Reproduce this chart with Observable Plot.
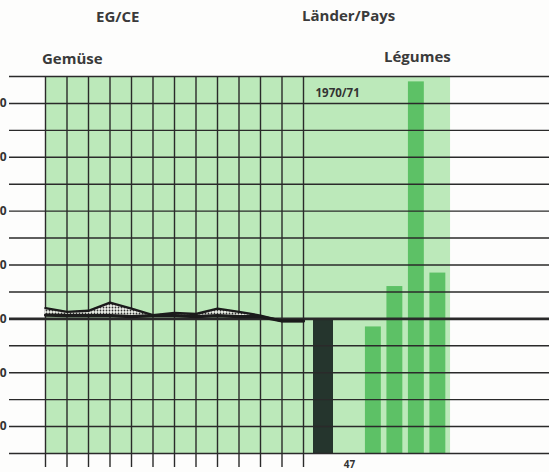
<!DOCTYPE html>
<html><head><meta charset="utf-8">
<script src="https://cdn.jsdelivr.net/npm/d3@7"></script>
<script src="https://cdn.jsdelivr.net/npm/@observablehq/plot@0.6"></script>
<style>
body{margin:0;background:#fdfdfc;font-family:"Open Sans",Lato,sans-serif;}
#wrap{position:relative;width:549px;height:472px;overflow:hidden}
.t{position:absolute;font-weight:700;color:#3a3a3a;font-size:15px;line-height:15px;white-space:nowrap}
#chart{position:absolute;left:0;top:0}
</style></head><body>
<div id="wrap">
<div id="chart"></div>
<div class="t" style="left:96px;top:9px">EG/CE</div>
<div class="t" style="left:302px;top:8px">Länder/Pays</div>
<div class="t" style="left:42px;top:51px">Gemüse</div>
<div class="t" style="left:384px;top:49px">Légumes</div>
</div>
<script>
// EG/CE series, one value per season (index 100 scale)
const seasons = ["1958/59","1959/60","1960/61","1961/62","1962/63","1963/64","1964/65","1965/66","1966/67","1967/68","1968/69","1969/70","1970/71"];
const egUpper = [102.0, 101.3, 101.5, 103.0, 101.9, 100.7, 101.1, 100.9, 101.9, 101.3, 100.6, 99.6, 99.6];
const egLower = [100.7, 100.6, 100.6, 100.6, 100.4, 100.6, 100.6, 100.4, 100.6, 100.4, 100.4, 99.6, 99.6];
// Countries 1970/71
const countries = ["D", "F", "I", "NL", "B/L"];
const countryValues = [47, 98.5, 106, 144, 108.5];
const barYear = "1970/71";
const yTickLabels = [80, 90, 100, 110, 120, 130, 140];
const gridLevels = [75, 80, 85, 90, 95, 100, 105, 110, 115, 120, 125, 130, 135, 140, 145];

const yMin = gridLevels[0], yMax = gridLevels[gridLevels.length - 1], base = 100;
const n = seasons.length;
// bar slots to the right of the season grid
const bars = countries.map((c, i) => {
  const center = i === 0 ? (n - 1) + 0.93 : (n - 1) + 2.25 + i;
  const half = i === 0 ? 0.465 : 0.37;
  return {country: c, value: countryValues[i], x1: center - half, x2: center + half, deficit: i === 0};
});
const panelRight = bars[bars.length - 1].x2 + 0.22;
const seasonData = seasons.map((s, i) => ({season: s, i, upper: egUpper[i], lower: egLower[i]}));

const ink = "#2a2a2a";
const chart = Plot.plot({
  width: 549, height: 472,
  marginTop: 76, marginBottom: 19, marginLeft: 9, marginRight: 0,
  x: {type: "linear", domain: [0, 504 / 21.5], range: [45, 549]},
  y: {domain: [yMin, yMax]},
  style: {background: "transparent", fontFamily: "'Open Sans', Lato, sans-serif", overflow: "visible"},
  marks: [
    Plot.rect([0], {x1: 0, x2: panelRight, y1: yMin, y2: yMax, fill: "#bce9ba"}),
    Plot.rectY(bars.filter(d => !d.deficit), {x1: "x1", x2: "x2", y1: yMin, y2: "value", fill: "#5dc166"}),
    Plot.rectY(bars.filter(d => d.deficit), {x1: "x1", x2: "x2", y1: base, y2: "value", fill: "#25352d", clip: true}),
    Plot.ruleY(gridLevels, {stroke: ink, strokeWidth: 1.4}),
    Plot.ruleY([base], {stroke: ink, strokeWidth: 2.6}),
    Plot.ruleX(seasonData, {x: "i", y1: yMin, y2: yMax, stroke: ink, strokeWidth: 1.4}),
    Plot.axisX(seasonData.map(d => d.i), {tickSize: 14, tickFormat: () => "", stroke: ink, strokeWidth: 1.4, strokeOpacity: 1}),
    Plot.areaY(seasonData, {x: "i", y1: "lower", y2: "upper", fill: "url(#dots)"}),
    Plot.lineY(seasonData, {x: "i", y: "upper", stroke: "#1b1b1b", strokeWidth: 2.4}),
    Plot.lineY(seasonData, {x: "i", y: "lower", stroke: "#1b1b1b", strokeWidth: 3.2}),
    Plot.axisY(yTickLabels, {tickSize: 0, tickPadding: 3, fontSize: 12, fontWeight: 700, fill: "#333"}),
    Plot.text([barYear], {x: bars[0].x1, frameAnchor: "top", dy: 12, dx: 2, text: d => d, textAnchor: "start", fontSize: 11.5, fontWeight: 700, fill: "#333"}),
    Plot.text(bars.filter(d => d.deficit), {x: d => (d.x1 + d.x2) / 2, frameAnchor: "bottom", dy: 14, dx: 26, text: d => String(d.value), fontSize: 10, fontWeight: 700, fill: "#333"})
  ]
});
const svg = d3.select(chart);
const defs = svg.insert("defs", ":first-child");
const p = defs.append("pattern").attr("id", "dots").attr("patternUnits", "userSpaceOnUse").attr("width", 3).attr("height", 3);
p.append("rect").attr("width", 3).attr("height", 3).attr("fill", "#eef2ea");
p.append("circle").attr("cx", 1.5).attr("cy", 1.5).attr("r", 0.9).attr("fill", "#333");
document.getElementById("chart").appendChild(chart);
</script>
</body></html>
